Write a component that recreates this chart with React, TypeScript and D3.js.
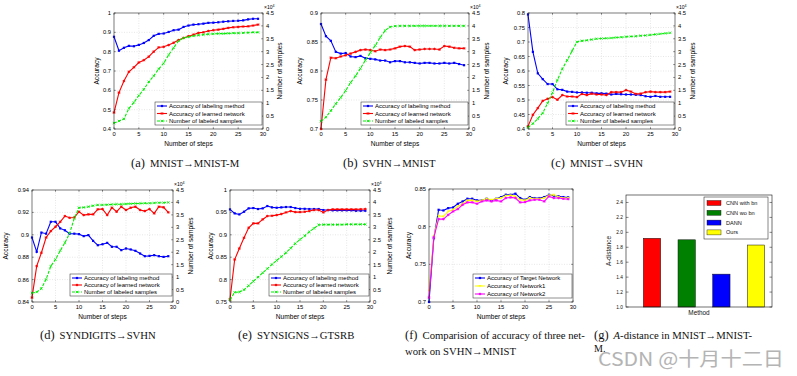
import React from 'react';
import * as d3 from 'd3';

// ---------- data ----------
const STEPS = [0,1,2,3,4,5,6,7,8,9,10,11,12,13,14,15,16,17,18,19,20,21,22,23,24,25,26,27,28,29];
const X_TICKS = [0,5,10,15,20,25,30];
const SAMPLE_TICKS = [0,0.5,1,1.5,2,2.5,3,3.5,4,4.5];
const SAMPLE_TICK_LABELS = ['0','0.5','1','1.5','2','2.5','3','3.5','4','4.5'];

const LEGEND_3 = ['Accuracy of labeling method','Accuracy of learned network','Number of labeled samples'];
const LEGEND_F = ['Accuracy of Target Network','Accuracy of Network1','Accuracy of Network2'];

// (a) MNIST -> MNIST-M
const A_TICKS = [0.4,0.5,0.6,0.7,0.8,0.9,1];
const A_TICK_LABELS = ['0.4','0.5','0.6','0.7','0.8','0.9','1'];
const A_LABEL = [0.877,0.805,0.82,0.83,0.828,0.835,0.845,0.86,0.882,0.892,0.894,0.902,0.911,0.914,0.928,0.935,0.94,0.942,0.945,0.949,0.95,0.952,0.955,0.957,0.959,0.96,0.962,0.967,0.97,0.97];
const A_LEARN = [0.485,0.588,0.648,0.696,0.719,0.744,0.756,0.774,0.8,0.822,0.825,0.834,0.846,0.86,0.871,0.88,0.888,0.897,0.9,0.907,0.911,0.914,0.918,0.923,0.926,0.928,0.93,0.931,0.935,0.94];
const A_SAMPLES = [0.23,0.31,0.39,0.8,1.03,1.3,1.54,1.83,2.06,2.33,2.55,2.87,3.15,3.42,3.53,3.57,3.61,3.64,3.66,3.68,3.69,3.7,3.7,3.71,3.72,3.72,3.73,3.74,3.75,3.75];

// (b) SVHN -> MNIST
const B_TICKS = [0.7,0.75,0.8,0.85,0.9];
const B_TICK_LABELS = ['0.7','0.75','0.8','0.85','0.9'];
const B_LABEL = [0.881,0.86,0.852,0.833,0.83,0.831,0.825,0.824,0.826,0.822,0.821,0.82,0.818,0.818,0.815,0.817,0.817,0.815,0.815,0.814,0.813,0.814,0.814,0.813,0.813,0.814,0.813,0.814,0.812,0.81];
const B_LEARN = [0.7,0.785,0.823,0.822,0.825,0.827,0.83,0.833,0.836,0.837,0.836,0.834,0.837,0.836,0.837,0.839,0.842,0.843,0.842,0.836,0.837,0.838,0.838,0.838,0.837,0.843,0.842,0.84,0.839,0.839];
const B_SAMPLES = [0.3,0.46,0.71,0.98,1.22,1.49,1.8,2.06,2.35,2.67,2.96,3.24,3.55,3.82,3.96,3.99,4.0,4.0,4.0,4.0,4.0,4.0,4.0,4.0,4.0,4.0,4.0,4.0,4.0,4.0];

// (c) MNIST -> SVHN
const C_TICKS = [0.4,0.45,0.5,0.55,0.6,0.65,0.7,0.75,0.8];
const C_TICK_LABELS = ['0.4','0.45','0.5','0.55','0.6','0.65','0.7','0.75','0.8'];
const C_LABEL = [0.795,0.666,0.592,0.572,0.555,0.555,0.537,0.535,0.529,0.528,0.526,0.526,0.525,0.525,0.523,0.523,0.522,0.519,0.521,0.52,0.519,0.519,0.518,0.517,0.513,0.511,0.514,0.511,0.511,0.511];
const C_LEARN = [0.409,0.449,0.472,0.497,0.504,0.51,0.501,0.517,0.512,0.512,0.51,0.521,0.517,0.522,0.519,0.519,0.517,0.527,0.527,0.527,0.534,0.529,0.521,0.522,0.527,0.529,0.527,0.527,0.527,0.529];
const C_SAMPLES = [0.06,0.21,0.4,0.62,1.0,1.41,1.9,2.33,2.67,3.03,3.38,3.42,3.44,3.47,3.5,3.51,3.52,3.53,3.55,3.56,3.58,3.59,3.6,3.62,3.63,3.65,3.67,3.69,3.71,3.73];

// (d) SYNDIGITS -> SVHN
const D_TICKS = [0.84,0.86,0.88,0.9,0.92,0.94];
const D_TICK_LABELS = ['0.84','0.86','0.88','0.9','0.92','0.94'];
const D_LABEL = [0.8976,0.8848,0.902,0.901,0.9116,0.9116,0.9057,0.904,0.901,0.901,0.9006,0.8988,0.8997,0.8946,0.8907,0.8916,0.8928,0.8893,0.8893,0.8863,0.8878,0.8869,0.8857,0.8833,0.8809,0.8812,0.8818,0.8809,0.8803,0.8809];
const D_LEARN = [0.8439,0.872,0.884,0.8976,0.9033,0.9072,0.9116,0.9167,0.9152,0.9155,0.9206,0.9176,0.9182,0.9182,0.9227,0.923,0.9176,0.9242,0.9206,0.9251,0.9221,0.9242,0.9251,0.9221,0.9212,0.923,0.9191,0.9251,0.9245,0.92];
const D_SAMPLES = [0.36,0.4,0.54,0.91,1.44,1.71,2.06,2.38,2.76,3.36,3.79,3.8,3.83,3.87,3.9,3.9,3.91,3.92,3.93,3.93,3.94,3.95,3.96,3.96,3.97,3.97,3.98,3.99,3.99,4.0];

// (e) SYNSIGNS -> GTSRB
const E_TICKS = [0.75,0.8,0.85,0.9,0.95,1];
const E_TICK_LABELS = ['0.75','0.8','0.85','0.9','0.95','1'];
const E_LABEL = [0.9567,0.9478,0.9455,0.9515,0.959,0.9597,0.9575,0.959,0.9642,0.9612,0.9604,0.9612,0.962,0.962,0.9597,0.958,0.958,0.9575,0.9575,0.9575,0.9552,0.9552,0.9545,0.9545,0.9545,0.9545,0.9545,0.9537,0.9537,0.9537];
const E_LEARN = [0.7552,0.8448,0.8694,0.8933,0.9157,0.9254,0.9254,0.9343,0.9418,0.9425,0.944,0.9463,0.95,0.953,0.9507,0.9507,0.9515,0.953,0.9552,0.9552,0.95,0.9552,0.9567,0.9567,0.9567,0.9567,0.9567,0.9567,0.957,0.9575];
const E_SAMPLES = [0.09,0.39,0.4,0.49,0.66,0.83,1.0,1.17,1.34,1.51,1.67,1.82,1.98,2.16,2.35,2.51,2.66,2.82,2.96,3.1,3.11,3.11,3.11,3.11,3.11,3.12,3.12,3.12,3.12,3.12];

// (f) three networks on SVHN -> MNIST
const F_TICKS = [0.7,0.75,0.8,0.85];
const F_TICK_LABELS = ['0.7','0.75','0.8','0.85'];
const F_TARGET = [0.7,0.7846,0.8224,0.8215,0.8246,0.8255,0.8304,0.8335,0.8371,0.8371,0.8349,0.8349,0.8371,0.8349,0.8371,0.8393,0.8424,0.8424,0.8438,0.838,0.8358,0.8393,0.838,0.838,0.8393,0.8424,0.8411,0.8402,0.8393,0.8389];
const F_NET1 = [0.715,0.7868,0.8144,0.8135,0.8202,0.8224,0.8269,0.8304,0.8349,0.8349,0.8335,0.8349,0.8371,0.8358,0.8371,0.838,0.8411,0.8415,0.8402,0.8358,0.8349,0.838,0.8371,0.8371,0.838,0.8415,0.8424,0.8393,0.838,0.838];
const F_NET2 = [0.7058,0.7859,0.81,0.81,0.8157,0.8202,0.8233,0.8291,0.8322,0.8322,0.8304,0.8335,0.8349,0.8335,0.8349,0.8335,0.838,0.8389,0.838,0.8322,0.8326,0.8349,0.8358,0.8358,0.8335,0.8402,0.838,0.838,0.8371,0.8366];

// (g) A-distance
const G_METHODS = ['CNN with bn','CNN wo bn','DANN','Ours'];
const G_VALUES = [1.92,1.90,1.44,1.83];
const G_COLORS = ['#ff0000','#008000','#0000ff','#ffff00'];
const G_TICKS = [1.0,1.2,1.4,1.6,1.8,2.0,2.2,2.4];
const G_TICK_LABELS = ['1.0','1.2','1.4','1.6','1.8','2.0','2.2','2.4'];

// ---------- drawing ----------
const SANS = 'Liberation Sans, Arial, sans-serif';
const SERIF = 'Liberation Serif, Times New Roman, serif';

type Box = { x: number; y: number; w: number; h: number };
type Series = { values: number[]; color: string; marker: string; dash?: string; right?: boolean };

function Marker({ kind, x, y, color }: { kind: string; x: number; y: number; color: string }) {
  const s = 1.3;
  if (kind === 'square') return <rect x={x - 1.1} y={y - 1.1} width={2.2} height={2.2} fill={color} />;
  if (kind === 'star')
    return (
      <path
        d={`M${x - s},${y}h${2 * s}M${x},${y - s}v${2 * s}M${x - 1},${y - 1}l2,2M${x - 1},${y + 1}l2,-2`}
        stroke={color}
        strokeWidth={0.8}
      />
    );
  if (kind === 'x')
    return <path d={`M${x - 1.2},${y - 1.2}l2.4,2.4M${x - 1.2},${y + 1.2}l2.4,-2.4`} stroke={color} strokeWidth={0.8} />;
  if (kind === 'tri')
    return <path d={`M${x},${y + 1.4}L${x - 1.4},${y - 1}L${x + 1.4},${y - 1}Z`} fill={color} />;
  return null;
}

function LinePanel(props: {
  box: Box;
  yDomain: [number, number];
  yTicks: number[];
  yTickLabels: string[];
  hasRight: boolean;
  series: Series[];
  legend: Box;
  legendLabels: string[];
  yLabelX: number;
  rightLabelX?: number;
}) {
  const { box, yDomain, yTicks, yTickLabels, hasRight, series, legend, legendLabels, yLabelX, rightLabelX } = props;
  const x = d3.scaleLinear().domain([0, 30]).range([box.x, box.x + box.w]);
  const y = d3.scaleLinear().domain(yDomain).range([box.y + box.h, box.y]);
  const yr = d3.scaleLinear().domain([0, 4.5]).range([box.y + box.h, box.y]);
  const bottom = box.y + box.h;
  const right = box.x + box.w;
  return (
    <g>
      {X_TICKS.slice(1, -1).map((t) => (
        <line key={'gx' + t} x1={x(t)} x2={x(t)} y1={box.y} y2={bottom} stroke="#cfcfcf" strokeWidth={0.5} strokeDasharray="1,1.5" />
      ))}
      {yTicks.slice(1, -1).map((t) => (
        <line key={'gy' + t} x1={box.x} x2={right} y1={y(t)} y2={y(t)} stroke="#cfcfcf" strokeWidth={0.5} strokeDasharray="1,1.5" />
      ))}
      {X_TICKS.map((t) => (
        <g key={'tx' + t}>
          <line x1={x(t)} x2={x(t)} y1={bottom} y2={bottom - 1.8} stroke="#222" strokeWidth={0.5} />
          <line x1={x(t)} x2={x(t)} y1={box.y} y2={box.y + 1.8} stroke="#222" strokeWidth={0.5} />
          <text x={x(t)} y={bottom + 6.5} fontSize={5.8} fontFamily={SANS} textAnchor="middle" fill="#000">
            {t}
          </text>
        </g>
      ))}
      {yTicks.map((t, i) => (
        <g key={'ty' + t}>
          <line x1={box.x} x2={box.x + 1.8} y1={y(t)} y2={y(t)} stroke="#222" strokeWidth={0.5} />
          {!hasRight && <line x1={right} x2={right - 1.8} y1={y(t)} y2={y(t)} stroke="#222" strokeWidth={0.5} />}
          <text x={box.x - 3} y={y(t) + 2} fontSize={5.8} fontFamily={SANS} textAnchor="end" fill="#000">
            {yTickLabels[i]}
          </text>
        </g>
      ))}
      {hasRight &&
        SAMPLE_TICKS.map((t, i) => (
          <g key={'tr' + t}>
            <line x1={right} x2={right - 1.8} y1={yr(t)} y2={yr(t)} stroke="#222" strokeWidth={0.5} />
            <text x={right + 3} y={yr(t) + 2} fontSize={5.8} fontFamily={SANS} fill="#000">
              {SAMPLE_TICK_LABELS[i]}
            </text>
          </g>
        ))}
      {hasRight && (
        <text x={right + 1} y={box.y - 4} fontSize={5} fontFamily={SANS} fill="#000">
          ×10<tspan fontSize={3.6} dy={-2}>4</tspan>
        </text>
      )}
      {series.map((s, si) => {
        const ys = s.right ? yr : y;
        const line = d3
          .line<number>()
          .x((_, i) => x(STEPS[i]))
          .y((v) => ys(v));
        return (
          <g key={'s' + si}>
            <path d={line(s.values) || ''} fill="none" stroke={s.color} strokeWidth={1.1} strokeDasharray={s.dash} />
            {s.values.map((v, i) => (
              <Marker key={i} kind={s.marker} x={x(STEPS[i])} y={ys(v)} color={s.color} />
            ))}
          </g>
        );
      })}
      <rect x={box.x} y={box.y} width={box.w} height={box.h} fill="none" stroke="#222" strokeWidth={0.6} />
      <rect x={legend.x} y={legend.y} width={legend.w} height={legend.h} fill="#fff" stroke="#222" strokeWidth={0.5} />
      {series.map((s, i) => {
        const ly = legend.y + 4 + i * ((legend.h - 8) / 2);
        return (
          <g key={'l' + i}>
            <line x1={legend.x + 2} x2={legend.x + 12} y1={ly} y2={ly} stroke={s.color} strokeWidth={1.1} strokeDasharray={s.dash} />
            <Marker kind={s.marker} x={legend.x + 7} y={ly} color={s.color} />
            <text x={legend.x + 14} y={ly + 2} fontSize={6} fontFamily={SANS} fill="#000">
              {legendLabels[i]}
            </text>
          </g>
        );
      })}
      <text x={(box.x + right) / 2} y={bottom + 16.5} fontSize={6.6} fontFamily={SANS} textAnchor="middle" fill="#000">
        Number of steps
      </text>
      <text
        transform={`translate(${yLabelX},${box.y + box.h / 2}) rotate(-90)`}
        fontSize={6.6}
        fontFamily={SANS}
        textAnchor="middle"
        dy="0.35em"
        fill="#000"
      >
        Accuracy
      </text>
      {hasRight && rightLabelX !== undefined && (
        <text
          transform={`translate(${rightLabelX},${box.y + box.h / 2}) rotate(-90)`}
          fontSize={6.6}
          fontFamily={SANS}
          textAnchor="middle"
          dy="0.35em"
          fill="#000"
        >
          Number of samples
        </text>
      )}
    </g>
  );
}

function BarPanel() {
  const box: Box = { x: 626, y: 195, w: 146, h: 112 };
  const x = d3.scaleLinear().domain([-0.75, 3.46]).range([box.x, box.x + box.w]);
  const y = d3.scaleLinear().domain([1.0, 2.5]).range([box.y + box.h, box.y]);
  const bw = x(0.5) - x(0);
  const lg = { x: 704, y: 197, w: 64, h: 42 };
  return (
    <g>
      {G_VALUES.map((v, i) => (
        <rect key={i} x={x(i) - bw / 2} y={y(v)} width={bw} height={y(1.0) - y(v)} fill={G_COLORS[i]} stroke="#111" strokeWidth={0.5} />
      ))}
      {G_TICKS.map((t, i) => (
        <g key={t}>
          <line x1={box.x} x2={box.x + 2.5} y1={y(t)} y2={y(t)} stroke="#111" strokeWidth={0.5} />
          <line x1={box.x + box.w} x2={box.x + box.w - 2.5} y1={y(t)} y2={y(t)} stroke="#111" strokeWidth={0.5} />
          <text x={box.x - 3} y={y(t) + 1.7} fontSize={4.8} fontFamily={SANS} textAnchor="end" fill="#111">
            {G_TICK_LABELS[i]}
          </text>
        </g>
      ))}
      <rect x={box.x} y={box.y} width={box.w} height={box.h} fill="none" stroke="#111" strokeWidth={0.6} />
      <rect x={lg.x} y={lg.y} width={lg.w} height={lg.h} fill="#fff" stroke="#111" strokeWidth={0.5} />
      {G_METHODS.map((m, i) => {
        const ly = lg.y + 6 + i * 9.8;
        return (
          <g key={m}>
            <rect x={lg.x + 3} y={ly - 2.5} width={14} height={5} fill={G_COLORS[i]} stroke="#111" strokeWidth={0.4} />
            <text x={lg.x + 22} y={ly + 2} fontSize={5.6} fontFamily={SANS} fill="#111">
              {m}
            </text>
          </g>
        );
      })}
      <text x={box.x + box.w / 2} y={box.y + box.h + 8} fontSize={6.4} fontFamily={SANS} textAnchor="middle" fill="#111">
        Method
      </text>
      <text
        transform={`translate(${609},${box.y + box.h / 2}) rotate(-90)`}
        fontSize={6.4}
        fontFamily={SANS}
        textAnchor="middle"
        dy="0.35em"
        fill="#111"
      >
        A-distance
      </text>
    </g>
  );
}

function Caption({ x, y, tag, text }: { x: number; y: number; tag: string; text: string }) {
  return (
    <text x={x} y={y} fontFamily={SERIF} fill="#111">
      <tspan fontSize={12.5}>{tag}</tspan>
      <tspan fontSize={10.7} dx={5}>
        {text}
      </tspan>
    </text>
  );
}

export default function App() {
  return (
    <svg width={797} height={376} style={{ position: 'absolute', left: 0, top: 0, background: '#fff' }}>
      <rect x={0} y={0} width={797} height={376} fill="#fff" />
      <LinePanel
        box={{ x: 114, y: 13, w: 149, h: 116 }}
        yDomain={[0.4, 1]}
        yTicks={A_TICKS}
        yTickLabels={A_TICK_LABELS}
        hasRight
        series={[
          { values: A_LABEL, color: '#0000ff', marker: 'square' },
          { values: A_LEARN, color: '#ff0000', marker: 'star' },
          { values: A_SAMPLES, color: '#00ee00', marker: 'x', dash: '3,1.5', right: true },
        ]}
        legend={{ x: 155, y: 102, w: 107, h: 23 }}
        legendLabels={LEGEND_3}
        yLabelX={97}
        rightLabelX={280}
      />
      <LinePanel
        box={{ x: 321, y: 13, w: 148, h: 116 }}
        yDomain={[0.7, 0.9]}
        yTicks={B_TICKS}
        yTickLabels={B_TICK_LABELS}
        hasRight
        series={[
          { values: B_LABEL, color: '#0000ff', marker: 'square' },
          { values: B_LEARN, color: '#ff0000', marker: 'star' },
          { values: B_SAMPLES, color: '#00ee00', marker: 'x', dash: '3,1.5', right: true },
        ]}
        legend={{ x: 361, y: 102, w: 107, h: 23 }}
        legendLabels={LEGEND_3}
        yLabelX={300}
        rightLabelX={487}
      />
      <LinePanel
        box={{ x: 528, y: 13, w: 147, h: 116 }}
        yDomain={[0.4, 0.8]}
        yTicks={C_TICKS}
        yTickLabels={C_TICK_LABELS}
        hasRight
        series={[
          { values: C_LABEL, color: '#0000ff', marker: 'square' },
          { values: C_LEARN, color: '#ff0000', marker: 'star' },
          { values: C_SAMPLES, color: '#00ee00', marker: 'x', dash: '3,1.5', right: true },
        ]}
        legend={{ x: 566, y: 102, w: 108, h: 23 }}
        legendLabels={LEGEND_3}
        yLabelX={506}
        rightLabelX={693}
      />
      <LinePanel
        box={{ x: 32, y: 190, w: 141, h: 112 }}
        yDomain={[0.84, 0.94]}
        yTicks={D_TICKS}
        yTickLabels={D_TICK_LABELS}
        hasRight
        series={[
          { values: D_LABEL, color: '#0000ff', marker: 'square' },
          { values: D_LEARN, color: '#ff0000', marker: 'star' },
          { values: D_SAMPLES, color: '#00ee00', marker: 'x', dash: '3,1.5', right: true },
        ]}
        legend={{ x: 70, y: 274, w: 102, h: 22 }}
        legendLabels={LEGEND_3}
        yLabelX={6}
        rightLabelX={191}
      />
      <LinePanel
        box={{ x: 230, y: 190, w: 140, h: 112 }}
        yDomain={[0.75, 1]}
        yTicks={E_TICKS}
        yTickLabels={E_TICK_LABELS}
        hasRight
        series={[
          { values: E_LABEL, color: '#0000ff', marker: 'square' },
          { values: E_LEARN, color: '#ff0000', marker: 'star' },
          { values: E_SAMPLES, color: '#00ee00', marker: 'x', dash: '3,1.5', right: true },
        ]}
        legend={{ x: 269, y: 274, w: 100, h: 22 }}
        legendLabels={LEGEND_3}
        yLabelX={211}
        rightLabelX={390}
      />
      <LinePanel
        box={{ x: 429, y: 189, w: 144, h: 113 }}
        yDomain={[0.7, 0.85]}
        yTicks={F_TICKS}
        yTickLabels={F_TICK_LABELS}
        hasRight={false}
        series={[
          { values: F_TARGET, color: '#0000ff', marker: 'square' },
          { values: F_NET1, color: '#ffff00', marker: 'tri' },
          { values: F_NET2, color: '#ff00ff', marker: 'star' },
        ]}
        legend={{ x: 473, y: 274, w: 99, h: 24 }}
        legendLabels={LEGEND_F}
        yLabelX={409}
      />
      <BarPanel />
      <Caption x={131} y={167} tag="(a)" text="MNIST→MNIST-M" />
      <Caption x={343} y={167} tag="(b)" text="SVHN→MNIST" />
      <Caption x={551} y={167} tag="(c)" text="MNIST→SVHN" />
      <Caption x={40} y={339} tag="(d)" text="SYNDIGITS→SVHN" />
      <Caption x={238} y={339} tag="(e)" text="SYNSIGNS→GTSRB" />
      <Caption x={405} y={339} tag="(f)" text="Comparision of accuracy of three net-" />
      <text x={405} y={355} fontFamily={SERIF} fontSize={10.7} fill="#111">
        work on SVHN→MNIST
      </text>
      <text x={594} y={339} fontFamily={SERIF} fill="#111">
        <tspan fontSize={12.5}>(g)</tspan>
        <tspan fontSize={10.7} dx={5} fontStyle="italic">A</tspan>
        <tspan fontSize={10.7}>-distance in MNIST→MNIST-</tspan>
      </text>
      <text x={594} y={352} fontFamily={SERIF} fontSize={10} fill="#111">
        M.
      </text>
      <text
        x={598}
        y={366}
        fontFamily="Noto Sans CJK SC, sans-serif"
        fontSize={19}
        fill="#b4b4b4"
        textLength={186}
        lengthAdjust="spacingAndGlyphs"
      >
        CSDN @十月十二日
      </text>
    </svg>
  );
}
